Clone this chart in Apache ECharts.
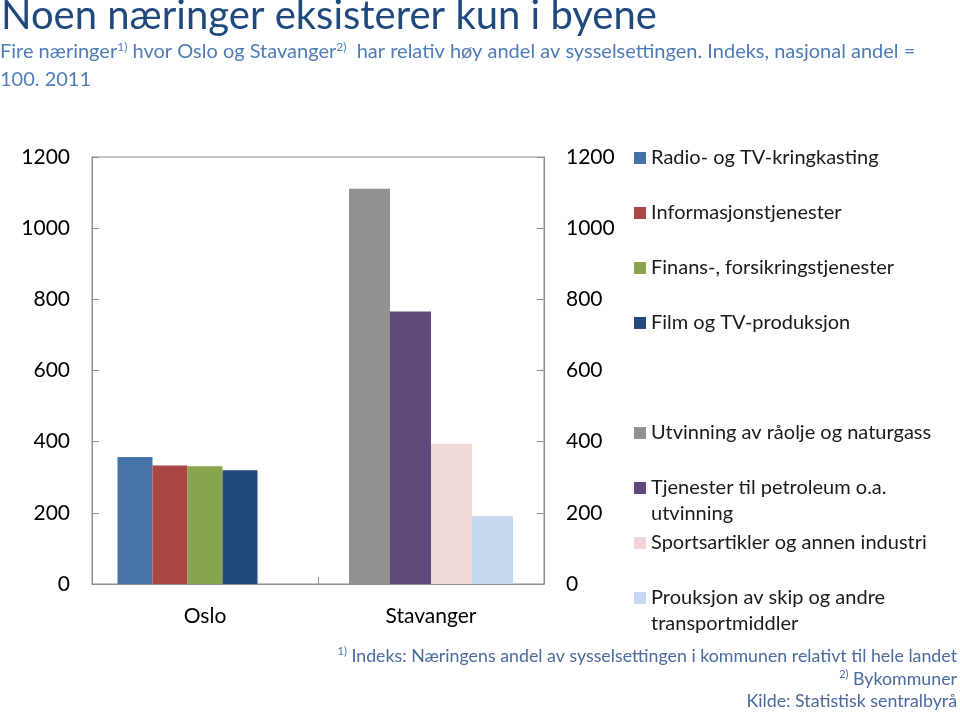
<!DOCTYPE html>
<html>
<head>
<meta charset="utf-8">
<script src="https://cdn.jsdelivr.net/npm/echarts@6/dist/echarts.min.js"></script>
<style>
html,body{margin:0;padding:0;background:#fff;}
#chart{width:960px;height:715px;}
</style>
</head>
<body>
<div id="chart"></div>
<script>
// ---- data ----
const categories = ['Oslo', 'Stavanger'];
const osloSeriesNames = ['Radio- og TV-kringkasting', 'Informasjonstjenester', 'Finans-, forsikringstjenester', 'Film og TV-produksjon'];
const osloValues = [357, 333, 331, 320];
const stavangerSeriesNames = ['Utvinning av råolje og naturgass', 'Tjenester til petroleum o.a. utvinning', 'Sportsartikler og annen industri', 'Prouksjon av skip og andre transportmiddler'];
const stavangerValues = [1111, 766, 394, 191];
const yTicks = [0, 200, 400, 600, 800, 1000, 1200];

const osloColors = ['#4572A7', '#AA4643', '#89A54E', '#24497B'];
const stavColors = ['#919191', '#604A7B', '#F0D6D6', '#C6D9F1'];

const FONT = 'Lato';
const legendLines = {
  'Tjenester til petroleum o.a. utvinning': ['Tjenester til petroleum o.a.', 'utvinning'],
  'Prouksjon av skip og andre transportmiddler': ['Prouksjon av skip og andre', 'transportmiddler']
};
const legendCenters = [158, 213, 268, 323, 433, 488, 543, 598];

const series = [];
osloSeriesNames.forEach((n, i) => {
  series.push({
    name: n, type: 'bar', xAxisIndex: 0, yAxisIndex: 0,
    barWidth: 35, barGap: '0%',
    itemStyle: { color: osloColors[i] },
    data: [osloValues[i], null]
  });
});
// empty slot (as in the original chart's layout)
series.push({ name: '_slot', type: 'bar', xAxisIndex: 0, yAxisIndex: 0, barWidth: 35, barGap: '0%', data: [null, null], silent: true });
stavangerSeriesNames.forEach((n, i) => {
  series.push({
    name: n, type: 'bar', xAxisIndex: 1, yAxisIndex: 0,
    barWidth: 41, barGap: '0%',
    itemStyle: { color: stavColors[i] },
    data: [null, stavangerValues[i]]
  });
});

const allNames = osloSeriesNames.concat(stavangerSeriesNames);
const legends = allNames.map((n, i) => {
  const two = legendLines[n];
  return {
    data: [{ name: n, icon: 'rect' }],
    left: 634,
    top: two ? legendCenters[i] - 39 : legendCenters[i] - 13,
    padding: 0,
    itemWidth: 12, itemHeight: 12,
    selectedMode: false,
    formatter: () => two ? ' \n' + two[0] + '\n' + two[1] : n,
    textStyle: { fontFamily: FONT, fontSize: 20, color: '#1a1a1a', lineHeight: 26 }
  };
});

const yAxisCommon = {
  type: 'value', min: 0, max: 1200, interval: 200,
  axisLine: { show: true, lineStyle: { color: '#8c8c8c', width: 1 } },
  axisTick: { show: true, inside: true, length: 7, lineStyle: { color: '#8c8c8c' } },
  splitLine: { show: false },
  axisLabel: { fontFamily: FONT, fontSize: 21, color: '#000', margin: 22,
    formatter: v => yTicks.includes(v) ? String(v) : '' }
};

const SUBC = '#4F7CB8';
const FOOTC = '#4A6A9E';

const chart = echarts.init(document.getElementById('chart'), null, { renderer: 'canvas' });
chart.setOption({
  animation: false,
  backgroundColor: '#fff',
  title: [
    {
      text: 'Noen næringer eksisterer kun i byene',
      left: 1, top: -6, padding: 0,
      textStyle: { fontFamily: FONT, fontSize: 40, fontWeight: 'normal', color: '#1F497D', lineHeight: 44 }
    },
    {
      text: '{t|Fire næringer}{s|1)}{t| hvor Oslo og Stavanger}{s|2)}{t|  har relativ høy andel av sysselsettingen. Indeks, nasjonal andel =}\n{t|100. 2011}',
      left: 0, top: 38, padding: 0,
      textStyle: {
        fontWeight: 'normal',
        rich: {
          t: { fontFamily: FONT, fontSize: 20, fontWeight: 'normal', color: SUBC, lineHeight: 28 },
          s: { fontFamily: FONT, fontSize: 12, fontWeight: 'normal', color: SUBC, lineHeight: 28, verticalAlign: 'top', padding: [3, 0, 0, 0] }
        }
      }
    }
  ],
  legend: legends,
  grid: { left: 92, right: 416, top: 157, bottom: 131, show: true, borderColor: '#8c8c8c', borderWidth: 1, containLabel: false },
  xAxis: [
    {
      type: 'category', data: categories,
      axisLine: { show: true, lineStyle: { color: '#8c8c8c' } },
      axisTick: { show: true, inside: true, length: 7, lineStyle: { color: '#8c8c8c' } },
      axisLabel: { fontFamily: FONT, fontSize: 21, color: '#000', margin: 22 }
    },
    { type: 'category', data: categories, show: false }
  ],
  yAxis: [
    Object.assign({}, yAxisCommon, { position: 'left' }),
    Object.assign({}, yAxisCommon, { position: 'right' })
  ],
  series: series,
  graphic: [
    {
      type: 'text', right: 3, top: 645,
      style: {
        text: '{s|1)}{t| Indeks: Næringens andel av sysselsettingen i kommunen relativt til hele landet}\n{s|2)}{t| Bykommuner}\n{t|Kilde: Statistisk sentralbyrå}',
        align: 'right',
        rich: {
          t: { fontFamily: FONT, fontSize: 17.8, fill: FOOTC, lineHeight: 22.7, align: 'right' },
          s: { fontFamily: FONT, fontSize: 11, fill: FOOTC, lineHeight: 22.7, verticalAlign: 'top', padding: [1, 0, 0, 0], align: 'right' }
        }
      }
    }
  ]
});
</script>
</body>
</html>
